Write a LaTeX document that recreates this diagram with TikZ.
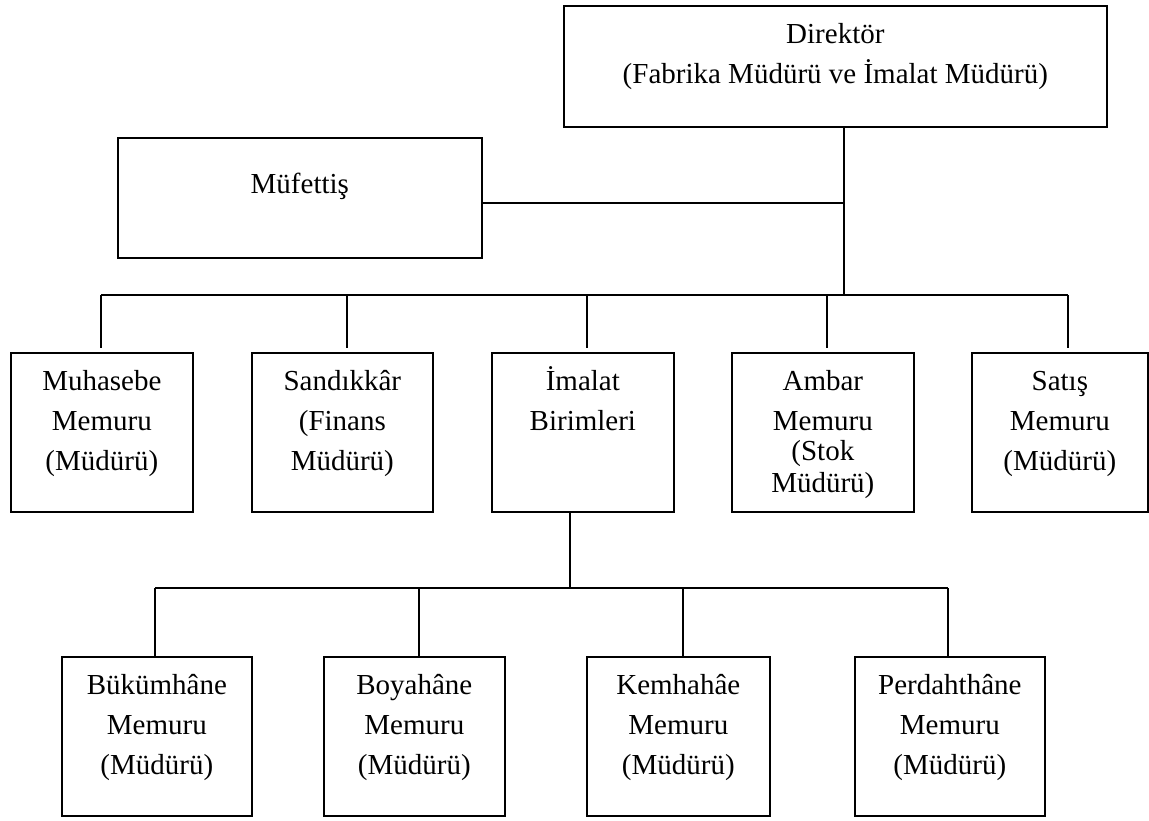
\documentclass[tikz,border=0pt]{standalone}
\usepackage{fontspec}
\setmainfont{Liberation Serif}
\begin{document}
\begin{tikzpicture}[x=1pt,y=-1pt,
  box/.style={draw, line width=1.7pt, inner sep=0pt, anchor=north west},
  lbl/.style={anchor=north, inner sep=0pt, align=center, font=\fontsize{29}{40}\selectfont},
  con/.style={line width=1.4pt}]
\useasboundingbox (0,0) rectangle (1149,820);
% boxes
\node[box, minimum width=543pt, minimum height=121pt] (dir) at (563,5) {};
\node[box, minimum width=364pt, minimum height=120pt] (muf) at (117,137) {};
\node[box, minimum width=182pt, minimum height=159pt] (muh) at (10,352) {};
\node[box, minimum width=181pt, minimum height=159pt] (san) at (251,352) {};
\node[box, minimum width=182pt, minimum height=159pt] (ima) at (491,352) {};
\node[box, minimum width=182pt, minimum height=159pt] (amb) at (731,352) {};
\node[box, minimum width=176pt, minimum height=159pt] (sat) at (971,352) {};
\node[box, minimum width=190pt, minimum height=159pt] (buk) at (61,656) {};
\node[box, minimum width=181pt, minimum height=159pt] (boy) at (323,656) {};
\node[box, minimum width=183pt, minimum height=159pt] (kem) at (586,656) {};
\node[box, minimum width=190pt, minimum height=159pt] (per) at (854,656) {};
% labels
\node[lbl] (tdir) at ([yshift=-10pt]dir.north) {\strut Direktör\\\strut (Fabrika Müdürü ve İmalat Müdürü)};
\node[lbl] (tmuf) at ([yshift=-28pt]muf.north) {\strut Müfettiş};
\node[lbl] (tmuh) at ([yshift=-10pt]muh.north) {\strut Muhasebe\\\strut Memuru\\\strut (Müdürü)};
\node[lbl] (tsan) at ([yshift=-10pt]san.north) {\strut Sandıkkâr\\\strut (Finans\\\strut Müdürü)};
\node[lbl] (tima) at ([yshift=-10pt]ima.north) {\strut İmalat\\\strut Birimleri};
\node[lbl] (tamb) at ([yshift=-10pt]amb.north) {\strut Ambar\\\strut Memuru\\[-10pt]\strut (Stok\\[-8pt]\strut Müdürü)};
\node[lbl] (tsat) at ([yshift=-10pt]sat.north) {\strut Satış\\\strut Memuru\\\strut (Müdürü)};
\node[lbl] (tbuk) at ([yshift=-10pt]buk.north) {\strut Bükümhâne\\\strut Memuru\\\strut (Müdürü)};
\node[lbl] (tboy) at ([yshift=-10pt]boy.north) {\strut Boyahâne\\\strut Memuru\\\strut (Müdürü)};
\node[lbl] (tkem) at ([yshift=-10pt]kem.north) {\strut Kemhahâe\\\strut Memuru\\\strut (Müdürü)};
\node[lbl] (tper) at ([yshift=-10pt]per.north) {\strut Perdahthâne\\\strut Memuru\\\strut (Müdürü)};
% junction coordinates
\coordinate (dj) at (844,203);
\coordinate (db) at (844,295);
\coordinate (b1) at (101,295);
\coordinate (b2) at (347,295);
\coordinate (b3) at (587,295);
\coordinate (b4) at (827,295);
\coordinate (b5) at (1068,295);
\coordinate (ib) at (570,588);
\coordinate (c1) at (155,588);
\coordinate (c2) at (419,588);
\coordinate (c3) at (683,588);
\coordinate (c4) at (948,588);
% connectors
\draw[con] (db |- dir.south) -- (db);
\draw[con] (muf.east |- dj) -- (dj);
\draw[con] (b1) -- (b5);
\draw[con, shorten >=4pt] (b1) -- (b1 |- muh.north);
\draw[con, shorten >=4pt] (b2) -- (b2 |- san.north);
\draw[con, shorten >=4pt] (b3) -- (b3 |- ima.north);
\draw[con, shorten >=4pt] (b4) -- (b4 |- amb.north);
\draw[con, shorten >=4pt] (b5) -- (b5 |- sat.north);
\draw[con] (ib |- ima.south) -- (ib);
\draw[con] (c1) -- (c4);
\draw[con] (c1) -- (c1 |- buk.north);
\draw[con] (c2) -- (c2 |- boy.north);
\draw[con] (c3) -- (c3 |- kem.north);
\draw[con] (c4) -- (c4 |- per.north);
\end{tikzpicture}
\end{document}
